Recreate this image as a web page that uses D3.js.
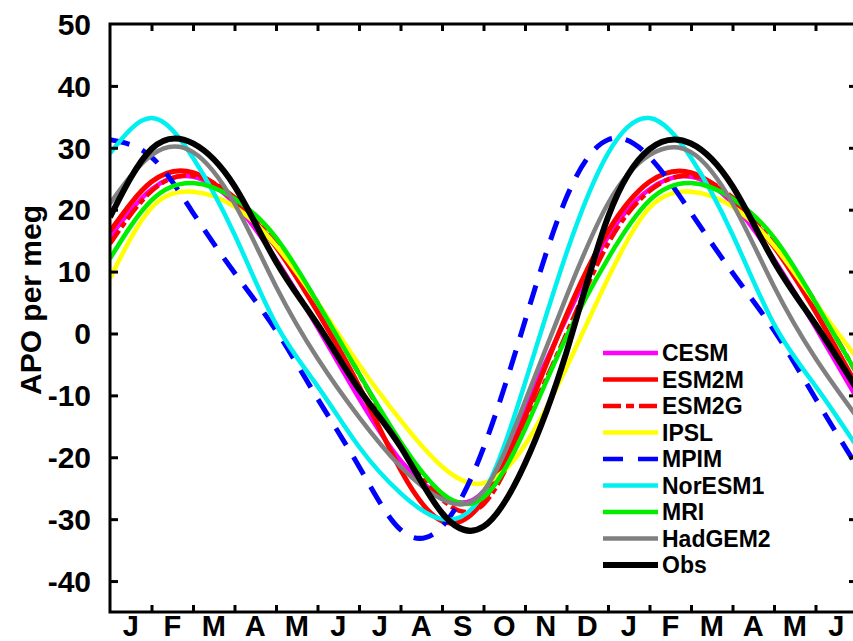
<!DOCTYPE html>
<html>
<head>
<meta charset="utf-8">
<script src="https://cdn.jsdelivr.net/npm/d3@7"></script>
<style>
  html, body { margin: 0; padding: 0; background: #fff; overflow: hidden; }
  svg { display: block; }
  text { font-family: "Liberation Sans", Arial, Helvetica, sans-serif; font-weight: bold; }
</style>
</head>
<body>
<div id="chart"></div>
<script>
// ---- data ----
const monthLabels = ["J","F","M","A","M","J","J","A","S","O","N","D","J","F","M","A","M","J"];
const monthX = d3.range(19); // month boundaries 0..18
const yTicks = [-40, -30, -20, -10, 0, 10, 20, 30, 40, 50];

const seriesNames = ["CESM","ESM2M","ESM2G","IPSL","MPIM","NorESM1","MRI","HadGEM2","Obs"];

const CESM    = [15.6, 23.3, 25.3, 21.0, 12.0, 1.0, -10.5, -20.5, -26.3, -25.5, -12.0, 2.5, 15.6, 23.3, 25.3, 21.0, 12.0, 1.0, -10.5];
const ESM2M   = [16.5, 24.5, 26.0, 21.5, 14.0, 3.5, -8.5, -22.0, -30.3, -27.0, -13.5, 3.0, 16.5, 24.5, 26.0, 21.5, 14.0, 3.5, -8.5];
const ESM2G   = [14.5, 23.0, 25.5, 22.0, 15.0, 5.0, -6.5, -18.0, -26.8, -27.6, -15.0, 0.0, 14.5, 23.0, 25.5, 22.0, 15.0, 5.0, -6.5];
const IPSL    = [8.9, 20.3, 22.9, 20.5, 14.2, 5.0, -5.0, -14.0, -21.5, -24.2, -18.0, -5.5, 8.9, 20.3, 22.9, 20.5, 14.2, 5.0, -4.0];
const MPIM    = [31.3, 28.5, 19.5, 9.8, 0.5, -10.5, -21.5, -31.7, -31.2, -18.5, 2.0, 22.0, 31.3, 28.5, 19.5, 9.8, 0.5, -10.5, -21.5];
const NorESM1 = [29.1, 34.8, 28.4, 16.0, 1.5, -8.5, -18.3, -25.8, -30.0, -25.8, -8.0, 13.0, 29.1, 34.8, 28.4, 16.0, 1.5, -8.5, -18.3];
const MRI     = [12.1, 21.5, 24.3, 21.8, 15.5, 5.0, -6.5, -17.5, -25.8, -26.5, -15.5, -0.5, 12.1, 21.5, 24.3, 21.8, 15.5, 5.0, -6.5];
const HadGEM2 = [21.0, 28.8, 29.3, 21.0, 7.6, -4.0, -13.5, -21.5, -26.8, -25.5, -11.0, 6.0, 21.0, 28.8, 29.3, 21.0, 7.6, -4.0, -13.5];
const Obs     = [18.8, 29.8, 30.7, 23.8, 11.6, 1.5, -9.0, -18.3, -29.0, -31.2, -21.0, -3.0, 18.8, 29.8, 30.7, 23.8, 11.6, 1.5, -9.0];

const seriesValues = [CESM, ESM2M, ESM2G, IPSL, MPIM, NorESM1, MRI, HadGEM2, Obs];

// ---- styles ----
const styles = {
  CESM:    { color: "#ff00ff", width: 4.5, dash: null },
  ESM2M:   { color: "#ff0000", width: 5,   dash: null },
  ESM2G:   { color: "#ff0000", width: 4.5, dash: "16,4,6,4" },
  IPSL:    { color: "#ffff00", width: 4.5, dash: null },
  MPIM:    { color: "#0000ff", width: 5,   dash: "20,14" },
  NorESM1: { color: "#00f0f0", width: 4.5, dash: null },
  MRI:     { color: "#00ee00", width: 4.5, dash: null },
  HadGEM2: { color: "#808080", width: 4.5, dash: null },
  Obs:     { color: "#000000", width: 6,   dash: null }
};

const W = 853, H = 641;
const pL = 110, pR = 857, pT = 24, pB = 612;

const svg = d3.select("#chart").append("svg").attr("width", W).attr("height", H);

const x = d3.scaleLinear().domain([0, 18]).range([pL, pR]);
const y = d3.scaleLinear().domain([-45, 50]).range([pB, pT]);

svg.append("defs").append("clipPath").attr("id", "clip")
  .append("rect").attr("x", pL).attr("y", pT).attr("width", pR - pL).attr("height", pB - pT);

// ---- curves ----
const line = d3.line()
  .x((d, i) => x(monthX[i]))
  .y(d => y(d))
  .curve(d3.curveNatural);

const g = svg.append("g").attr("clip-path", "url(#clip)");
seriesNames.forEach((name, k) => {
  const s = styles[name];
  g.append("path")
    .attr("d", line(seriesValues[k]))
    .attr("fill", "none")
    .attr("stroke", s.color)
    .attr("stroke-width", s.width)
    .attr("stroke-dasharray", s.dash)
    .attr("stroke-linejoin", "round");
});

// ---- axes ----
const tickLen = 8;
const axisW = 3;

const yAxisL = d3.axisRight(y).tickValues(yTicks.filter(v => v < 50)).tickSize(tickLen).tickFormat("");
svg.append("g").attr("transform", `translate(${pL},0)`).call(yAxisL)
  .call(a => a.select(".domain").remove())
  .selectAll("line").attr("stroke", "#000").attr("stroke-width", axisW);
const yAxisR = d3.axisLeft(y).tickValues(yTicks.filter(v => v < 50)).tickSize(tickLen).tickFormat("");
svg.append("g").attr("transform", `translate(${pR},0)`).call(yAxisR)
  .call(a => a.select(".domain").remove())
  .selectAll("line").attr("stroke", "#000").attr("stroke-width", axisW);
const xAxisB = d3.axisTop(x).tickValues(d3.range(1, 18)).tickSize(tickLen - 1).tickFormat("");
svg.append("g").attr("transform", `translate(0,${pB})`).call(xAxisB)
  .call(a => a.select(".domain").remove())
  .selectAll("line").attr("stroke", "#000").attr("stroke-width", axisW);
const xAxisT = d3.axisBottom(x).tickValues(d3.range(1, 18)).tickSize(tickLen - 1).tickFormat("");
svg.append("g").attr("transform", `translate(0,${pT})`).call(xAxisT)
  .call(a => a.select(".domain").remove())
  .selectAll("line").attr("stroke", "#000").attr("stroke-width", axisW);

svg.append("rect")
  .attr("x", pL).attr("y", pT).attr("width", pR - pL).attr("height", pB - pT)
  .attr("fill", "none").attr("stroke", "#000").attr("stroke-width", axisW);

svg.append("g").selectAll("text").data(yTicks).join("text")
  .attr("x", 91).attr("y", d => y(d))
  .attr("dy", "0.36em")
  .attr("text-anchor", "end")
  .attr("font-size", 30)
  .text(d => d);

svg.append("g").selectAll("text").data(monthLabels).join("text")
  .attr("x", (d, i) => x(i + 0.5))
  .attr("y", 636)
  .attr("text-anchor", "middle")
  .attr("font-size", 29)
  .text(d => d);

svg.append("text")
  .attr("transform", `translate(41,300) rotate(-90)`)
  .attr("text-anchor", "middle")
  .attr("font-size", 30)
  .text("APO per meg");

// ---- legend ----
const legY0 = 353, legDy = 26.5, legX1 = 603, legX2 = 658, legTX = 662;
const leg = svg.append("g");
seriesNames.forEach((name, k) => {
  const s = styles[name];
  const yy = legY0 + k * legDy;
  leg.append("line")
    .attr("x1", legX1).attr("x2", legX2).attr("y1", yy).attr("y2", yy)
    .attr("stroke", s.color)
    .attr("stroke-width", name === "Obs" ? 6 : 4.5)
    .attr("stroke-dasharray", name === "ESM2G" ? "18,5,8,5" : (name === "MPIM" ? "20,15" : null));
  leg.append("text")
    .attr("x", legTX).attr("y", yy).attr("dy", "0.36em")
    .attr("font-size", 23)
    .text(name);
});
</script>
</body>
</html>
